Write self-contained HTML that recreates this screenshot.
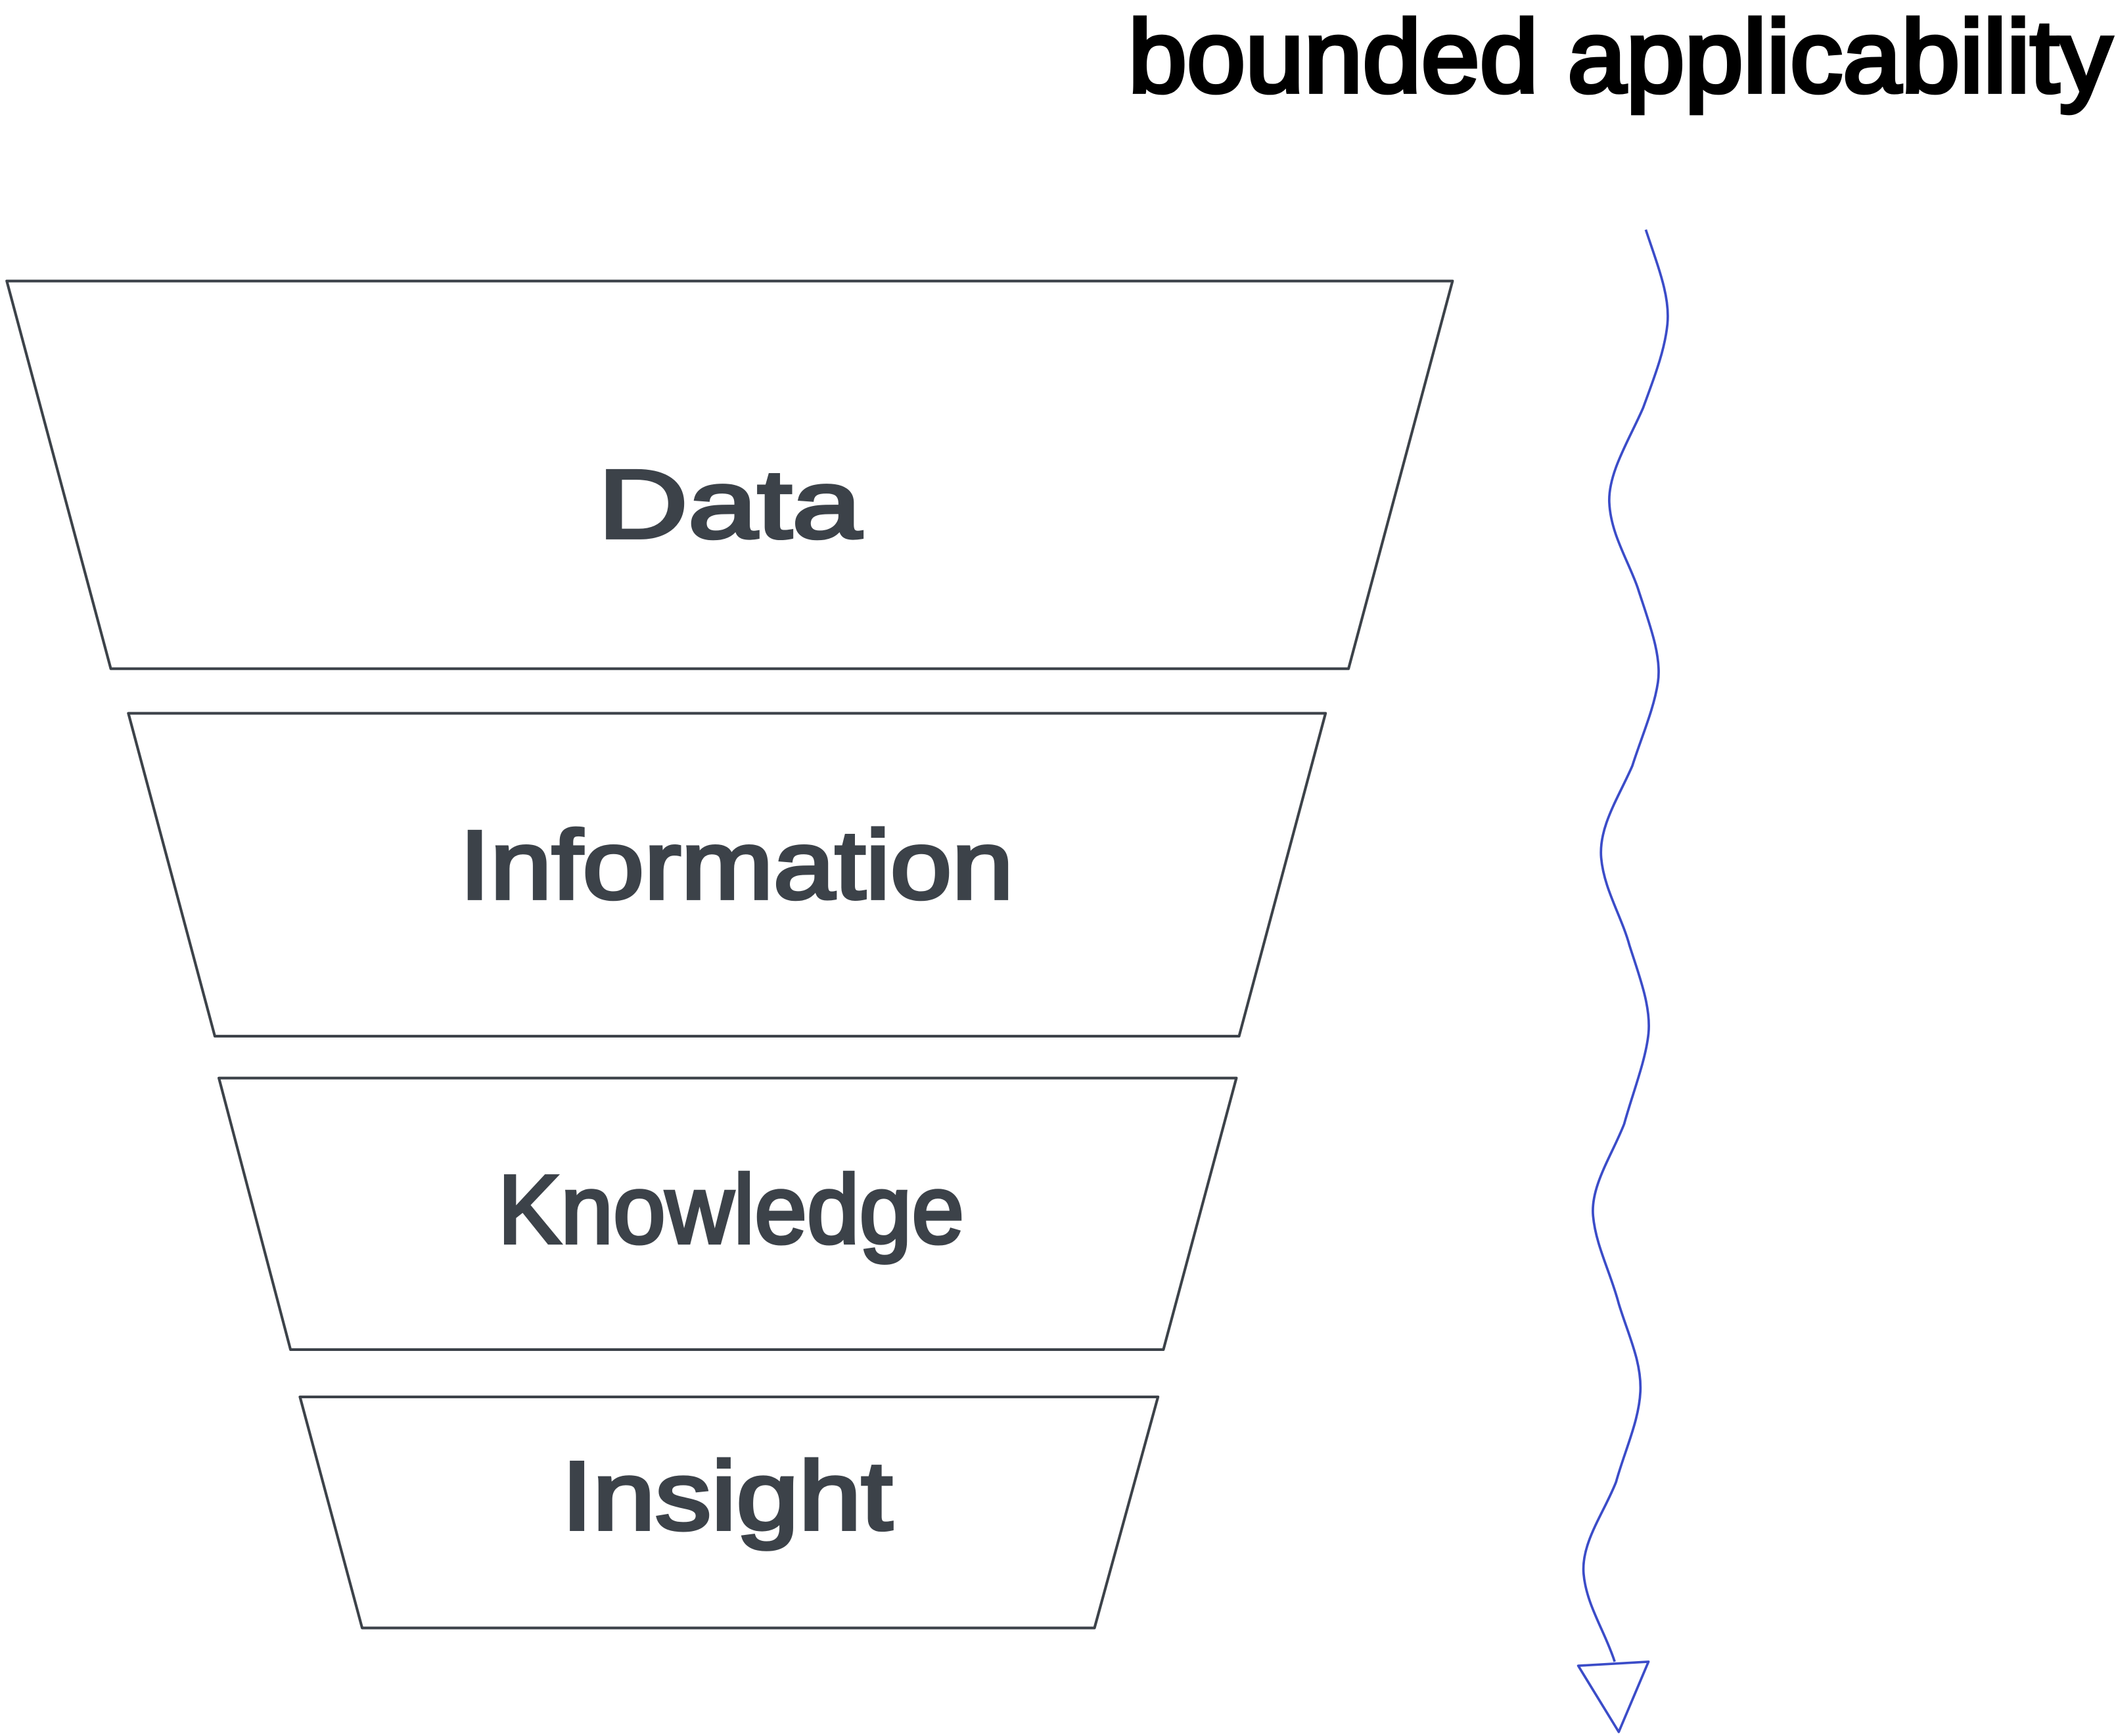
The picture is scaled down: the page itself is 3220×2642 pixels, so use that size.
<!DOCTYPE html>
<html><head><meta charset="utf-8"><style>
html,body{margin:0;padding:0;background:#fff;width:3220px;height:2642px;overflow:hidden}
svg{display:block}
</style></head><body>
<svg width="3220" height="2642" viewBox="0 0 1566 1285" preserveAspectRatio="none" xmlns="http://www.w3.org/2000/svg">
<g fill="none" stroke="#3c4249" stroke-width="2" stroke-linejoin="round">
<polygon points="5,208 1075,208 998,495 82,495"/>
<polygon points="95,528 981,528 917,767 159,767"/>
<polygon points="162,798 915,798 861,999 215,999"/>
<polygon points="222,1034 857,1034 810,1205 268,1205"/>
</g>
<g font-family="'Liberation Sans',sans-serif" fill="#3c4249" stroke="#3c4249" stroke-width="2.5" font-size="72" text-anchor="middle">
<text x="540" y="398" textLength="195" lengthAdjust="spacingAndGlyphs">Data</text>
<text x="545" y="665" textLength="410" lengthAdjust="spacingAndGlyphs">Information</text>
<text x="541" y="920" textLength="345" lengthAdjust="spacingAndGlyphs">Knowledge</text>
<text x="538" y="1132" textLength="245" lengthAdjust="spacingAndGlyphs">Insight</text>
</g>
<text x="835" y="68" font-family="'Liberation Sans',sans-serif" font-size="76" fill="#000" stroke="#000" stroke-width="3" textLength="728" lengthAdjust="spacingAndGlyphs">bounded applicability</text>
<path d="M1218,170 C1228,200 1236,220 1234,240 C1232,260 1224,280 1216,302 C1206,325 1190,350 1191,372 C1192,395 1205,415 1212,435 C1220,460 1230,485 1227,505 C1224,525 1215,545 1208,567 C1198,590 1183,612 1185,635 C1187,658 1200,678 1206,700 C1213,722 1222,745 1220,765 C1218,785 1208,810 1202,832 C1193,855 1177,878 1179,900 C1181,922 1192,942 1198,965 C1205,988 1215,1008 1214,1030 C1213,1052 1202,1075 1196,1097 C1187,1120 1170,1142 1172,1165 C1174,1188 1188,1208 1195,1230" fill="none" stroke="#3b4cc8" stroke-width="1.8"/>
<polygon points="1168,1233 1220,1230 1198,1282" fill="none" stroke="#3b4cc8" stroke-width="1.8" stroke-linejoin="round"/>
</svg>
</body></html>
